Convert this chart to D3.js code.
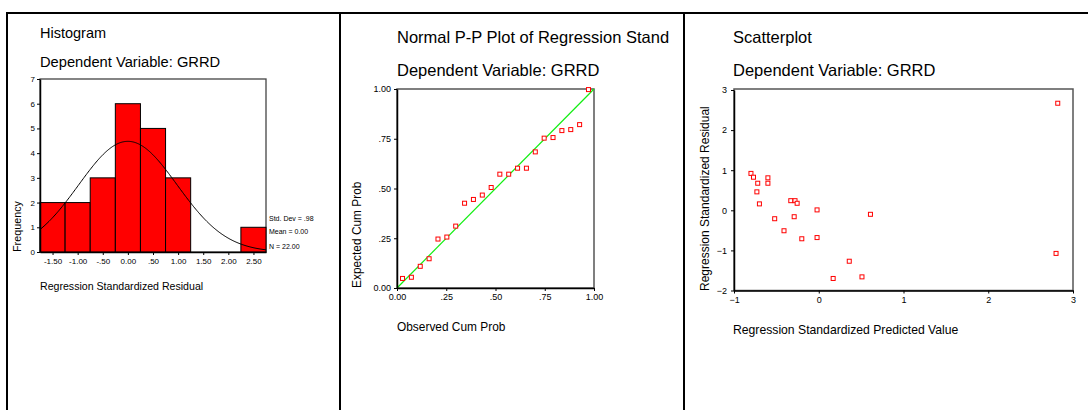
<!DOCTYPE html>
<html><head><meta charset="utf-8">
<script src="https://cdn.jsdelivr.net/npm/d3@7/dist/d3.min.js"></script>
<style>body{margin:0;background:#fff}svg{display:block;font-family:"Liberation Sans",Arial,sans-serif}</style>
</head><body><svg id="c" width="1088" height="410"></svg>
<script>
// ---------- data ----------
const histCenters = [-1.5, -1, -0.5, 0, 0.5, 1, 1.5, 2, 2.5];
const histCounts  = [2, 2, 3, 6, 5, 3, 0, 0, 1];
const histXTickLabels = ["-1.50", "-1.00", "-.50", "0.00", ".50", "1.00", "1.50", "2.00", "2.50"];
const histYTicks = [0, 1, 2, 3, 4, 5, 6, 7];
const histStdDev = 0.98, histMean = 0.00, histN = 22;
const histStatsText = ["Std. Dev = .98", "Mean = 0.00", "N = 22.00"];

const ppObserved = [.028, .073, .118, .163, .208, .253, .298, .343, .388, .433, .478, .522, .567, .612, .657, .702, .747, .792, .837, .882, .927, .972];
const ppExpected = [.048, .054, .109, .147, .246, .256, .311, .426, .445, .467, .505, .572, .572, .602, .602, .684, .753, .756, .791, .796, .821, .997];
const ppTicks = [0, .25, .5, .75, 1];
const ppTickLabels = ["0.00", ".25", ".50", ".75", "1.00"];

const scPredicted = [-0.80, -0.77, -0.72, -0.60, -0.60, -0.73, -0.70, -0.33, -0.28, -0.255, -0.02, 2.82, 0.61, -0.52, -0.29, -0.41, -0.20, -0.02, 0.36, 0.17, 0.51, 2.80];
const scResidual  = [0.92, 0.825, 0.675, 0.81, 0.675, 0.46, 0.16, 0.24, 0.24, 0.175, 0.01, 2.67, -0.10, -0.21, -0.16, -0.51, -0.71, -0.68, -1.27, -1.70, -1.66, -1.075];
const scXTicks = [-1, 0, 1, 2, 3];
const scYTicks = [-2, -1, 0, 1, 2, 3];

// ---------- drawing ----------
const svg = d3.select("#c");
const FONT = '"Liberation Sans",Arial,sans-serif';

// frame
svg.append("line").attr("x1", 6).attr("x2", 1088).attr("y1", 13).attr("y2", 13).attr("stroke", "#000").attr("stroke-width", 2);
[7, 340, 684].forEach(x => svg.append("line").attr("x1", x).attr("x2", x).attr("y1", 12).attr("y2", 410).attr("stroke", "#000").attr("stroke-width", 2));

function text(x, y, s, size, opts = {}) {
  const t = svg.append("text").attr("x", x).attr("y", y).attr("font-size", size)
    .attr("dominant-baseline", "central").attr("fill", "#000").text(s);
  if (opts.anchor) t.attr("text-anchor", opts.anchor);
  if (opts.rotate) t.attr("transform", `rotate(-90,${x},${y})`);
  return t;
}

// titles
text(40, 33, "Histogram", 14.5);
text(40, 62, "Dependent Variable: GRRD", 14.7);
text(397, 37, "Normal P-P Plot of Regression Stand", 16.5);
text(397, 70, "Dependent Variable: GRRD", 16.5);
text(733, 37, "Scatterplot", 16.5);
text(733, 70, "Dependent Variable: GRRD", 16.5);

// ===== Histogram =====
{
  const binW = 0.5;
  const x = d3.scaleLinear().domain([histCenters[0] - binW / 2, histCenters[histCenters.length - 1] + binW / 2]).range([40, 266]);
  const y = d3.scaleLinear().domain([0, 7]).range([252, 79]);
  const g = svg.append("g");
  g.append("rect").attr("x", 40).attr("y", 79).attr("width", 226).attr("height", 173).attr("fill", "none").attr("stroke", "#444").attr("stroke-width", 1.3);
  g.selectAll("rect.bar").data(histCenters).join("rect").attr("class", "bar")
    .attr("x", (d) => x(d - binW / 2)).attr("width", x(binW) - x(0))
    .attr("y", (d, i) => y(histCounts[i])).attr("height", (d, i) => y(0) - y(histCounts[i]))
    .attr("fill", "#ff0000").attr("stroke", "#000").attr("stroke-width", 1)
    .attr("display", (d, i) => histCounts[i] > 0 ? null : "none");
  // normal curve
  const xs = d3.range(x.domain()[0], x.domain()[1] + 0.001, 0.02);
  const pdf = v => Math.exp(-0.5 * ((v - histMean) / histStdDev) ** 2) / (histStdDev * Math.sqrt(2 * Math.PI));
  g.append("path").attr("d", d3.line().x(v => x(v)).y(v => y(histN * binW * pdf(v))).curve(d3.curveLinear)(xs))
    .attr("fill", "none").attr("stroke", "#000").attr("stroke-width", 1);
  // axes
  const ax = g.append("g").attr("transform", "translate(0,252)")
    .call(d3.axisBottom(x).tickValues(histCenters).tickFormat((d, i) => histXTickLabels[i]).tickSize(3).tickSizeOuter(0));
  const ay = g.append("g").attr("transform", "translate(40,0)")
    .call(d3.axisLeft(y).tickValues(histYTicks).tickFormat(d3.format("d")).tickSize(3).tickSizeOuter(0));
  [ax, ay].forEach(a => { a.select(".domain").attr("stroke", "#000").attr("stroke-width", 1.5); a.selectAll("text").attr("font-size", 8).attr("font-family", FONT).attr("fill", "#000"); a.selectAll("line").attr("stroke", "#000"); });
  ax.selectAll("text").attr("dy", "0.35em").attr("y", 9);
  ay.selectAll("text").attr("x", -5);
  histStatsText.forEach((s, i) => text(269, [218, 231, 246][i], s, 7));
  text(40, 286, "Regression Standardized Residual", 10.6);
  text(17, 252, "Frequency", 10.8, { rotate: true });
}

// ===== P-P plot =====
{
  const x = d3.scaleLinear().domain([0, 1]).range([397, 594]);
  const y = d3.scaleLinear().domain([0, 1]).range([288, 89]);
  const g = svg.append("g");
  g.append("rect").attr("x", 397).attr("y", 89).attr("width", 197).attr("height", 199).attr("fill", "none").attr("stroke", "#555").attr("stroke-width", 1.5);
  g.append("line").attr("x1", x(0)).attr("y1", y(0)).attr("x2", x(1)).attr("y2", y(1)).attr("stroke", "#11ee11").attr("stroke-width", 1.2);
  g.selectAll("rect.pt").data(ppObserved).join("rect").attr("class", "pt")
    .attr("x", d => x(d) - 2).attr("y", (d, i) => y(ppExpected[i]) - 2).attr("width", 4).attr("height", 4)
    .attr("fill", "#fff").attr("stroke", "#ff0000").attr("stroke-width", 1);
  const ax = g.append("g").attr("transform", "translate(0,288)")
    .call(d3.axisBottom(x).tickValues(ppTicks).tickFormat((d, i) => ppTickLabels[i]).tickSize(3).tickSizeOuter(0));
  const ay = g.append("g").attr("transform", "translate(397,0)")
    .call(d3.axisLeft(y).tickValues(ppTicks).tickFormat((d, i) => ppTickLabels[i]).tickSize(3).tickSizeOuter(0));
  [ax, ay].forEach(a => { a.select(".domain").attr("stroke", "#000").attr("stroke-width", 1.5); a.selectAll("text").attr("font-size", 9).attr("font-family", FONT).attr("fill", "#000"); a.selectAll("line").attr("stroke", "#000"); });
  ax.selectAll("text").attr("dy", "0.35em").attr("y", 9);
  ay.selectAll("text").attr("x", -6);
  text(397, 327, "Observed Cum Prob", 11.9);
  text(357, 288, "Expected Cum Prob", 11.9, { rotate: true });
}

// ===== Scatterplot =====
{
  const x = d3.scaleLinear().domain([-1, 3]).range([734, 1073]);
  const y = d3.scaleLinear().domain([-2, 3]).range([290.5, 90]);
  const g = svg.append("g");
  g.append("rect").attr("x", 734).attr("y", 89).attr("width", 339).attr("height", 201.5).attr("fill", "none").attr("stroke", "#555").attr("stroke-width", 1.5);
  g.selectAll("rect.pt").data(scPredicted).join("rect").attr("class", "pt")
    .attr("x", d => x(d) - 2).attr("y", (d, i) => y(scResidual[i]) - 2).attr("width", 4).attr("height", 4)
    .attr("fill", "#fff").attr("stroke", "#ff0000").attr("stroke-width", 1);
  const ax = g.append("g").attr("transform", "translate(0,290.5)")
    .call(d3.axisBottom(x).tickValues(scXTicks).tickFormat(d3.format("d")).tickSize(3).tickSizeOuter(0));
  const ay = g.append("g").attr("transform", "translate(734,0)")
    .call(d3.axisLeft(y).tickValues(scYTicks).tickFormat(d3.format("d")).tickSize(3).tickSizeOuter(0));
  [ax, ay].forEach(a => { a.select(".domain").attr("stroke", "#000").attr("stroke-width", 1.5); a.selectAll("text").attr("font-size", 9).attr("font-family", FONT).attr("fill", "#000"); a.selectAll("line").attr("stroke", "#000"); });
  ax.selectAll("text").attr("dy", "0.35em").attr("y", 9);
  ay.selectAll("text").attr("x", -7);
  text(733, 330, "Regression Standardized Predicted Value", 12.2);
  text(705, 291, "Regression Standardized Residual", 12, { rotate: true });
}
</script></body></html>
